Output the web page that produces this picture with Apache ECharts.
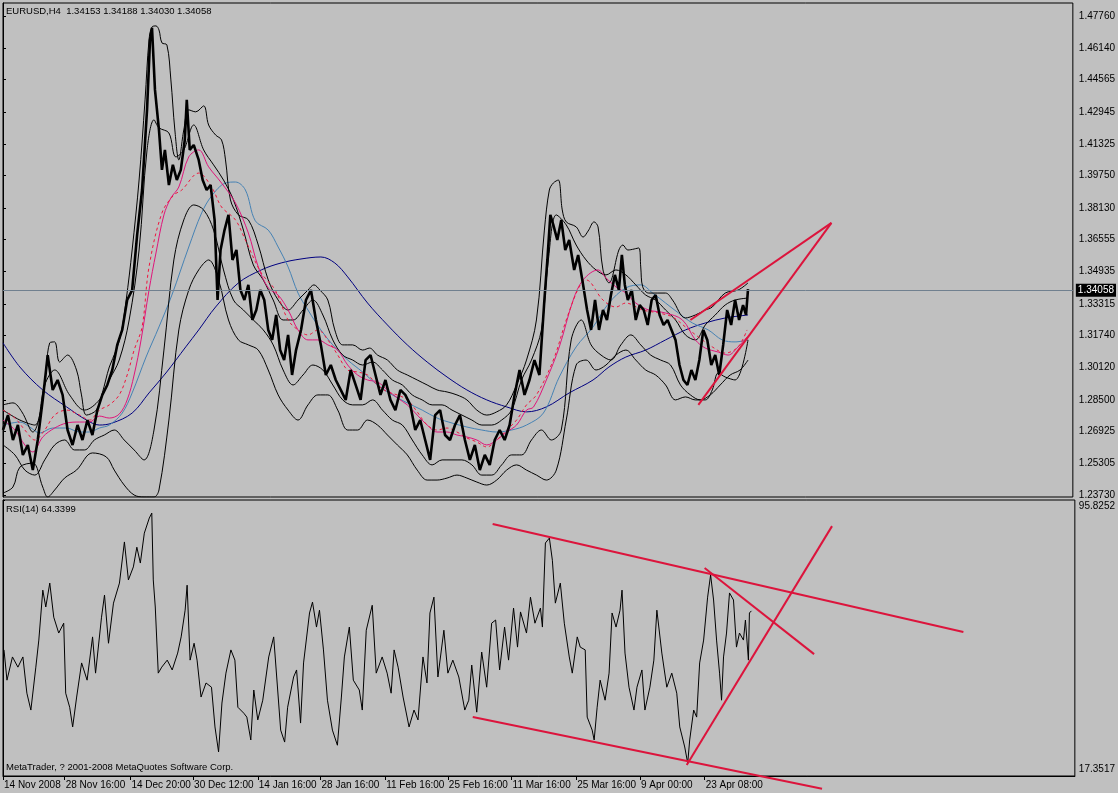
<!DOCTYPE html>
<html><head><meta charset="utf-8">
<script src="https://cdn.jsdelivr.net/npm/echarts@6/dist/echarts.min.js"></script>
<style>html,body{margin:0;padding:0;background:#c0c0c0;}#c{width:1118px;height:793px;}</style>
</head><body><div id="c"></div>
<script>
const symbolInfo = 'EURUSD,H4  1.34153 1.34188 1.34030 1.34058';
const rsiInfo = 'RSI(14) 64.3399';
const footerText = 'MetaTrader, ? 2001-2008 MetaQuotes Software Corp.';
const timeLabelBars = [0,62,128,191,256,319,384,447,511,576,640,705];
const timeLabels = ['14 Nov 2008','28 Nov 16:00','14 Dec 20:00','30 Dec 12:00','14 Jan 16:00','28 Jan 16:00','11 Feb 16:00','25 Feb 16:00','11 Mar 16:00','25 Mar 16:00','9 Apr 00:00','23 Apr 08:00'];
const priceTicks = [1.23730,1.25305,1.26925,1.28500,1.30120,1.31740,1.33315,1.34935,1.36555,1.38130,1.39750,1.41325,1.42945,1.44565,1.46140,1.47760];
const lastPrice = 1.34058;
const rsiMin = 17.3517, rsiMax = 95.8252;

const priceClose = [[0,1.2699],[5,1.2774],[10,1.2649],[15,1.2724],[20,1.2574],[25,1.2624],[30,1.2498],[35,1.2649],[40,1.2850],[45,1.3075],[50,1.2900],[55,1.2950],[60,1.2875],[65,1.2699],[70,1.2624],[75,1.2724],[80,1.2649],[85,1.2749],[90,1.2674],[95,1.2799],[100,1.2875],[105,1.2925],[110,1.3000],[115,1.3126],[120,1.3201],[125,1.3351],[130,1.3401],[135,1.3677],[140,1.3903],[145,1.4305],[148,1.4656],[150,1.4716],[153,1.4405],[157,1.4204],[160,1.4004],[163,1.4104],[167,1.3928],[171,1.4029],[175,1.3953],[179,1.4004],[183,1.4154],[185,1.4355],[188,1.4104],[192,1.4129],[197,1.4054],[201,1.3953],[205,1.3903],[209,1.3928],[213,1.3753],[216,1.3351],[219,1.3602],[223,1.3702],[227,1.3778],[231,1.3552],[235,1.3602],[239,1.3401],[243,1.3351],[247,1.3427],[251,1.3251],[255,1.3301],[259,1.3401],[263,1.3351],[267,1.3201],[271,1.3151],[275,1.3276],[279,1.3100],[283,1.3050],[287,1.3176],[291,1.2975],[295,1.3100],[300,1.3201],[305,1.3351],[310,1.3401],[315,1.3251],[320,1.3126],[325,1.2975],[330,1.3025],[335,1.2950],[340,1.2900],[345,1.2850],[350,1.3000],[355,1.2925],[360,1.2850],[365,1.3050],[370,1.3075],[375,1.2975],[380,1.2875],[385,1.2950],[390,1.2850],[395,1.2799],[400,1.2900],[405,1.2875],[410,1.2825],[415,1.2699],[420,1.2749],[425,1.2649],[430,1.2549],[435,1.2774],[440,1.2799],[445,1.2674],[450,1.2649],[455,1.2724],[460,1.2774],[465,1.2649],[470,1.2549],[475,1.2624],[480,1.2498],[485,1.2574],[490,1.2524],[495,1.2649],[500,1.2699],[505,1.2649],[510,1.2724],[515,1.2875],[520,1.3000],[525,1.2875],[530,1.2950],[535,1.3050],[540,1.2975],[545,1.3351],[548,1.3552],[551,1.3778],[554,1.3728],[558,1.3652],[562,1.3753],[566,1.3602],[570,1.3652],[575,1.3502],[579,1.3577],[584,1.3427],[588,1.3301],[592,1.3201],[596,1.3351],[600,1.3201],[604,1.3301],[608,1.3251],[612,1.3376],[616,1.3477],[620,1.3401],[623,1.3577],[626,1.3427],[629,1.3351],[633,1.3401],[637,1.3251],[641,1.3326],[645,1.3301],[649,1.3226],[653,1.3351],[657,1.3376],[661,1.3276],[665,1.3226],[669,1.3251],[673,1.3201],[677,1.3151],[681,1.3025],[685,1.2950],[689,1.2925],[693,1.3000],[697,1.2950],[701,1.3050],[705,1.3201],[709,1.3151],[713,1.3025],[717,1.3075],[721,1.2975],[725,1.3126],[729,1.3301],[733,1.3226],[737,1.3351],[741,1.3251],[745,1.3326],[748,1.3276],[750,1.3406]];

const bandUpperOuter = [[0,1.2825],[10,1.2835],[19,1.2790],[30,1.2689],[40,1.2850],[47,1.3136],[52,1.3141],[57,1.3040],[65,1.3075],[74,1.3000],[79,1.2875],[84,1.2774],[94,1.2799],[100,1.2885],[107,1.3015],[114,1.3100],[119,1.3186],[124,1.3351],[130,1.3602],[137,1.3953],[143,1.4355],[147,1.4656],[150,1.4721],[154,1.4726],[157,1.4706],[160,1.4641],[165,1.4631],[169,1.4455],[173,1.4204],[177,1.4054],[182,1.4204],[187,1.4305],[194,1.4295],[202,1.4325],[207,1.4229],[214,1.4179],[220,1.4154],[224,1.4054],[229,1.3853],[237,1.3778],[247,1.3753],[257,1.3627],[267,1.3452],[277,1.3351],[287,1.3301],[297,1.3351],[307,1.3401],[313,1.3427],[319,1.3401],[327,1.3351],[334,1.3201],[342,1.3126],[352,1.3126],[362,1.3100],[369,1.3110],[377,1.3075],[387,1.3050],[397,1.3000],[407,1.2975],[417,1.2950],[427,1.2925],[437,1.2900],[447,1.2890],[457,1.2875],[467,1.2850],[477,1.2799],[487,1.2774],[497,1.2790],[507,1.2825],[517,1.2925],[527,1.3050],[537,1.3251],[545,1.3702],[550,1.3903],[554,1.3938],[559,1.3953],[563,1.3803],[567,1.3743],[577,1.3718],[584,1.3667],[589,1.3697],[595,1.3743],[599,1.3718],[604,1.3502],[610,1.3437],[620,1.3602],[624,1.3627],[629,1.3602],[640,1.3612],[642,1.3517],[644,1.3417],[650,1.3386],[667,1.3386],[674,1.3351],[687,1.3261],[697,1.3276],[707,1.3301],[714,1.3316],[727,1.3386],[740,1.3401],[750,1.3437]];
const bandUpperInner = [[0,1.2799],[17,1.2749],[32,1.2724],[42,1.2925],[52,1.3000],[67,1.2875],[82,1.2799],[97,1.2850],[107,1.2950],[117,1.3050],[127,1.3251],[137,1.3602],[145,1.4104],[152,1.4255],[157,1.4215],[167,1.4189],[174,1.4069],[182,1.4104],[192,1.4229],[202,1.4104],[212,1.4029],[222,1.3953],[232,1.3853],[242,1.3702],[252,1.3527],[262,1.3452],[272,1.3351],[282,1.3251],[292,1.3251],[302,1.3301],[312,1.3351],[322,1.3276],[332,1.3151],[342,1.3075],[352,1.3050],[362,1.3025],[372,1.3040],[382,1.3000],[392,1.2950],[402,1.2925],[412,1.2875],[422,1.2850],[432,1.2825],[442,1.2825],[452,1.2799],[462,1.2774],[472,1.2749],[482,1.2724],[492,1.2724],[502,1.2749],[512,1.2799],[522,1.2950],[532,1.3050],[542,1.3201],[549,1.3552],[557,1.3778],[567,1.3728],[577,1.3627],[587,1.3552],[597,1.3502],[607,1.3477],[617,1.3502],[627,1.3477],[637,1.3427],[647,1.3376],[657,1.3351],[667,1.3301],[677,1.3251],[687,1.3176],[697,1.3151],[707,1.3226],[717,1.3276],[727,1.3326],[737,1.3351],[750,1.3361]];
const bandLowerInner = [[0,1.2624],[12,1.2574],[22,1.2498],[32,1.2473],[42,1.2549],[52,1.2624],[62,1.2649],[72,1.2599],[82,1.2599],[92,1.2649],[102,1.2674],[112,1.2699],[122,1.2649],[132,1.2599],[142,1.2549],[152,1.2699],[162,1.3100],[172,1.3552],[182,1.3753],[192,1.3828],[202,1.3803],[212,1.3702],[222,1.3502],[232,1.3351],[242,1.3301],[252,1.3251],[262,1.3201],[272,1.3126],[282,1.3000],[292,1.2925],[302,1.2975],[312,1.3025],[322,1.3000],[332,1.2925],[342,1.2850],[352,1.2825],[362,1.2825],[372,1.2850],[382,1.2799],[392,1.2749],[402,1.2724],[412,1.2649],[422,1.2574],[432,1.2524],[442,1.2549],[452,1.2549],[462,1.2549],[472,1.2524],[482,1.2473],[492,1.2473],[502,1.2524],[512,1.2574],[522,1.2574],[532,1.2649],[542,1.2699],[552,1.2649],[562,1.2699],[572,1.3151],[582,1.3251],[592,1.3126],[602,1.3075],[612,1.3050],[622,1.3126],[632,1.3176],[642,1.3126],[652,1.3075],[662,1.3050],[672,1.3025],[682,1.2925],[692,1.2875],[702,1.2850],[712,1.2875],[722,1.2925],[732,1.2975],[742,1.3000],[750,1.3050]];
const bandLowerOuter = [[0,1.2383],[10,1.2413],[17,1.2513],[30,1.2533],[40,1.2413],[45,1.2363],[52,1.2398],[62,1.2458],[74,1.2498],[90,1.2584],[104,1.2564],[112,1.2498],[122,1.2423],[132,1.2373],[142,1.2363],[152,1.2363],[157,1.2398],[167,1.2749],[177,1.3201],[187,1.3401],[197,1.3502],[207,1.3552],[217,1.3452],[227,1.3251],[237,1.3151],[247,1.3126],[257,1.3100],[267,1.3000],[277,1.2875],[287,1.2799],[297,1.2749],[307,1.2825],[317,1.2875],[327,1.2875],[337,1.2799],[347,1.2699],[357,1.2699],[367,1.2749],[377,1.2724],[387,1.2674],[397,1.2624],[407,1.2574],[417,1.2498],[427,1.2448],[437,1.2448],[447,1.2458],[457,1.2473],[467,1.2458],[477,1.2438],[487,1.2423],[497,1.2448],[507,1.2498],[517,1.2524],[527,1.2498],[537,1.2473],[547,1.2448],[557,1.2498],[567,1.2749],[577,1.3025],[587,1.3050],[597,1.3000],[607,1.3025],[617,1.3075],[627,1.3100],[637,1.3050],[647,1.3000],[657,1.2975],[667,1.2925],[677,1.2850],[687,1.2865],[697,1.2850],[707,1.2850],[714,1.2900],[720,1.2985],[727,1.2965],[737,1.2950],[750,1.3151]];

const maFastSolid = [[0,1.2749],[12,1.2699],[22,1.2624],[30,1.2589],[40,1.2664],[52,1.2709],[64,1.2734],[77,1.2739],[87,1.2739],[97,1.2769],[107,1.2759],[117,1.2779],[125,1.2850],[132,1.2975],[139,1.3151],[147,1.3401],[154,1.3587],[162,1.3778],[169,1.3863],[177,1.3918],[187,1.4069],[197,1.4104],[207,1.4019],[220,1.3938],[234,1.3838],[247,1.3687],[257,1.3517],[267,1.3412],[277,1.3376],[287,1.3301],[297,1.3201],[307,1.3151],[317,1.3151],[327,1.3126],[337,1.3100],[347,1.3025],[357,1.2975],[367,1.2950],[377,1.2940],[387,1.2900],[397,1.2860],[407,1.2825],[417,1.2774],[427,1.2724],[437,1.2689],[447,1.2689],[457,1.2674],[467,1.2664],[477,1.2649],[487,1.2624],[497,1.2649],[507,1.2689],[517,1.2724],[527,1.2799],[534,1.2814],[547,1.2950],[560,1.3116],[574,1.3351],[584,1.3452],[599,1.3502],[607,1.3462],[617,1.3417],[627,1.3386],[637,1.3336],[650,1.3301],[667,1.3286],[684,1.3251],[697,1.3151],[707,1.3110],[720,1.3090],[730,1.3075],[740,1.3116],[749,1.3166]];
const maFastDashed = [[0,1.2799],[12,1.2759],[22,1.2699],[32,1.2649],[42,1.2699],[52,1.2774],[64,1.2799],[77,1.2774],[87,1.2749],[97,1.2799],[107,1.2825],[117,1.2875],[125,1.2975],[132,1.3100],[140,1.3216],[147,1.3517],[160,1.3788],[172,1.3878],[180,1.3903],[197,1.3988],[210,1.3918],[220,1.3818],[234,1.3753],[244,1.3652],[260,1.3487],[274,1.3401],[287,1.3251],[297,1.3201],[307,1.3176],[317,1.3201],[327,1.3151],[337,1.3075],[347,1.3000],[357,1.2990],[367,1.2975],[377,1.2925],[387,1.2890],[397,1.2875],[407,1.2850],[417,1.2790],[427,1.2724],[437,1.2699],[447,1.2709],[457,1.2689],[467,1.2659],[477,1.2639],[487,1.2614],[497,1.2649],[507,1.2699],[517,1.2749],[527,1.2825],[537,1.2875],[554,1.3050],[567,1.3251],[580,1.3417],[587,1.3452],[604,1.3351],[617,1.3316],[627,1.3336],[644,1.3301],[660,1.3286],[674,1.3266],[687,1.3216],[700,1.3166],[714,1.3116],[727,1.3085],[740,1.3116],[749,1.3201]];
const maMedium = [[0,1.2724],[17,1.2739],[27,1.2714],[37,1.2684],[50,1.2709],[64,1.2709],[77,1.2689],[87,1.2689],[97,1.2709],[107,1.2724],[120,1.2784],[130,1.2885],[144,1.3065],[157,1.3216],[170,1.3376],[187,1.3617],[200,1.3788],[210,1.3873],[224,1.3938],[234,1.3943],[244,1.3903],[254,1.3748],[267,1.3702],[277,1.3617],[287,1.3517],[297,1.3386],[307,1.3301],[320,1.3201],[332,1.3126],[347,1.3050],[362,1.2990],[377,1.2925],[392,1.2875],[407,1.2835],[422,1.2799],[437,1.2759],[452,1.2734],[467,1.2714],[482,1.2699],[497,1.2689],[512,1.2699],[527,1.2724],[544,1.2784],[560,1.2965],[577,1.3116],[594,1.3216],[610,1.3336],[627,1.3412],[642,1.3427],[654,1.3386],[667,1.3336],[680,1.3286],[694,1.3236],[710,1.3201],[724,1.3151],[737,1.3141],[750,1.3151]];
const maSlow = [[0,1.3136],[17,1.3015],[40,1.2900],[64,1.2815],[84,1.2749],[97,1.2724],[110,1.2734],[130,1.2784],[147,1.2885],[164,1.2985],[184,1.3116],[197,1.3201],[214,1.3316],[237,1.3437],[260,1.3502],[280,1.3537],[300,1.3557],[320,1.3567],[334,1.3537],[347,1.3467],[367,1.3336],[387,1.3226],[407,1.3126],[427,1.3040],[447,1.2965],[467,1.2900],[487,1.2850],[507,1.2815],[527,1.2790],[547,1.2815],[570,1.2885],[594,1.2950],[610,1.3015],[627,1.3065],[647,1.3100],[667,1.3151],[687,1.3201],[707,1.3236],[727,1.3261],[750,1.3276]];

const rsiValues = [[1,53.2],[4,44.6],[9.5,51.2],[15,48.3],[20,51.2],[24,40.9],[28,36.1],[33,48.3],[36,56.0],[40,70.2],[43,65.4],[47,72.2],[51,62.5],[56,58.0],[61,60.8],[63,40.9],[67,36.9],[70,31.3],[74,39.8],[79,49.5],[84.5,44.6],[90,56.9],[93,46.6],[99,62.5],[102,68.8],[106,55.1],[111,66.5],[117,72.2],[122,83.9],[126,73.1],[131,76.8],[134.5,82.4],[138,77.9],[142,86.4],[147,90.7],[149.5,92.1],[151,73.1],[153,65.4],[156,46.6],[159.5,48.3],[165,50.3],[170,47.5],[175.5,52.3],[179,56.9],[183,64.5],[185,71.6],[188,50.3],[192,55.1],[195,50.3],[199,39.8],[204,43.8],[209.5,42.6],[213,31.3],[216.6,24.2],[220,38.1],[224,46.6],[229,53.2],[233,50.3],[236,36.9],[242,35.2],[245,34.1],[249,27.6],[252,41.8],[256,33.3],[261,38.9],[267,51.2],[272,56.9],[276,41.8],[279,30.4],[283,27.0],[286,36.9],[292,45.5],[295,47.5],[299,32.4],[302,49.5],[308,63.7],[311,66.8],[315,59.7],[318,64.5],[322,53.2],[326,38.9],[331,30.4],[336,26.1],[340,39.8],[343,51.2],[348,59.7],[352,44.6],[358,41.8],[361,36.1],[365,58.8],[371,65.9],[375,46.6],[381,51.2],[386,46.6],[390,40.9],[393,53.2],[397,48.3],[402,39.8],[408,31.3],[413,36.1],[417,33.3],[422,51.2],[426,43.8],[429,63.7],[433,68.2],[437,45.5],[443,58.8],[447,46.6],[452,50.3],[458,45.5],[464,36.1],[468,38.9],[471,48.9],[476,35.5],[481,52.6],[486,42.6],[491,60.8],[495,61.7],[499,47.5],[504,59.7],[508,50.3],[513,65.1],[517,54.0],[520,64.0],[526,58.0],[530,68.2],[534.5,60.8],[540,65.1],[542,59.7],[545,83.6],[549,85.0],[552,78.7],[555,66.5],[560,72.2],[564,60.8],[569,51.2],[572,46.6],[577,56.9],[580,54.0],[585,53.2],[587,34.1],[592,30.4],[594,27.6],[597,36.9],[600,44.6],[605,38.9],[609,46.6],[612,63.7],[616,59.7],[620,64.5],[622,70.2],[625,52.3],[629,42.6],[634,36.1],[637,42.6],[642,47.5],[645,36.1],[650,42.6],[654,50.3],[657,64.5],[662,52.3],[667,42.6],[672,46.6],[677,40.9],[680,31.3],[685,25.6],[688,21.0],[690,27.6],[694,36.1],[697,34.1],[700,49.5],[704,56.0],[708,68.2],[711,74.5],[714,67.4],[717,56.0],[720,46.6],[722,38.9],[724,51.2],[727,58.0],[730,69.4],[734,67.4],[737,54.0],[740,58.0],[744,56.0],[746,61.7],[749,50.3],[750,63.7],[752,64.3]];

const priceTrendUpper = [[692,1.3251],[834,1.3738]];
const priceTrendLower = [[700,1.2825],[834,1.3738]];
const rsiChannelUpper = [[492,89.0],[965,58.3]];
const rsiChannelLower = [[472,34.1],[823,13.7]];
const rsiTrendUp = [[687,20.5],[833,88.4]];
const rsiTrendDown = [[705,76.5],[815,52.0]];

const FONT = '"Liberation Sans", Arial, sans-serif';
const TREND = '#dc143c';
function ln(data, color, width, extra) {
  return Object.assign({type:'line', data, showSymbol:false, symbol:'none', silent:true, animation:false,
    xAxisIndex:0, yAxisIndex:0, lineStyle:{color, width}, itemStyle:{color}}, extra || {});
}
const SM = {smooth:0.35};
const txt = {fontSize:9.5, fontWeight:'normal', color:'#000', fontFamily:FONT};
const chart = echarts.init(document.getElementById('c'));
chart.setOption({
  backgroundColor:'#c0c0c0',
  animation:false,
  title:[
    {text:symbolInfo, left:1, top:1, textStyle:txt},
    {text:rsiInfo, left:1, top:499, textStyle:txt},
    {text:footerText, left:1, top:757, textStyle:txt}
  ],
  grid:[
    {left:3, top:3, width:1077, height:494, show:true, borderColor:'#000', borderWidth:1, backgroundColor:'transparent'},
    {left:3, top:500, width:1077, height:276, show:true, borderColor:'#000', borderWidth:1, backgroundColor:'transparent'}
  ],
  xAxis:[
    {type:'value', gridIndex:0, min:0, max:1077, show:false},
    {type:'value', gridIndex:1, min:0, max:1077,
     axisLine:{show:true, lineStyle:{color:'#000', width:1}},
     axisTick:{show:true, customValues:timeLabelBars, length:4, lineStyle:{color:'#000'}},
     axisLabel:{show:true, customValues:timeLabelBars, formatter:v => timeLabels[timeLabelBars.indexOf(Math.round(v))],
       align:'left', margin:4, color:'#000', fontSize:10, fontFamily:FONT, padding:[0,0,0,1]},
     splitLine:{show:false}}
  ],
  yAxis:[
    {type:'value', gridIndex:0, position:'right', min:1.2363, max:1.4841,
     axisLine:{show:true, lineStyle:{color:'#000'}},
     axisTick:{show:true, customValues:priceTicks, length:3, lineStyle:{color:'#000'}},
     axisLabel:{show:true, customValues:priceTicks, formatter:v => v.toFixed(5), margin:6, color:'#000', fontSize:10, fontFamily:FONT},
     splitLine:{show:false}},
    {type:'value', gridIndex:1, position:'right', min:rsiMin, max:rsiMax,
     axisLine:{show:true, lineStyle:{color:'#000'}},
     axisTick:{show:true, customValues:[rsiMin, rsiMax], length:2, lineStyle:{color:'#000'}},
     axisLabel:{show:true, customValues:[rsiMin, rsiMax], margin:4,
       formatter:v => v > 50 ? '{t|' + rsiMax.toFixed(4) + '}' : '{b|' + rsiMin.toFixed(4) + '}',
       rich:{t:{padding:[12,0,0,0], fontSize:10, color:'#000', fontFamily:FONT}, b:{padding:[0,0,14,0], fontSize:10, color:'#000', fontFamily:FONT}}},
     splitLine:{show:false}}
  ],
  series:[
    ln(maSlow, '#000080', 1, SM),
    ln(maMedium, '#4682b4', 1, SM),
    ln(bandUpperOuter, '#000', 1, SM),
    ln(bandUpperInner, '#000', 1, SM),
    ln(bandLowerInner, '#000', 1, SM),
    ln(bandLowerOuter, '#000', 1, SM),
    ln(maFastSolid, '#e0147a', 1, SM),
    ln(maFastDashed, '#f0143c', 1, {smooth:0.35, lineStyle:{color:'#f0143c', width:1, type:[3,3]}}),
    ln(priceClose, '#000', 2.6, {markLine:{silent:true, symbol:['none','none'], animation:false,
      data:[{yAxis:lastPrice}], lineStyle:{color:'#70808f', width:1, type:'solid'},
      label:{show:true, position:'end', distance:3, formatter:lastPrice.toFixed(5), color:'#fff', backgroundColor:'#000', padding:[2,2,1,2], fontSize:10, fontFamily:FONT}}}),
    ln(priceTrendUpper, TREND, 2, {z:5}),
    ln(priceTrendLower, TREND, 2, {z:5}),
    ln(rsiValues, '#000', 1, {xAxisIndex:1, yAxisIndex:1}),
    ln(rsiChannelUpper, TREND, 2, {xAxisIndex:1, yAxisIndex:1, z:5, clip:false}),
    ln(rsiChannelLower, TREND, 2, {xAxisIndex:1, yAxisIndex:1, z:5, clip:false}),
    ln(rsiTrendUp, TREND, 2, {xAxisIndex:1, yAxisIndex:1, z:5, clip:false}),
    ln(rsiTrendDown, TREND, 2, {xAxisIndex:1, yAxisIndex:1, z:5, clip:false})
  ]
});
</script></body></html>
